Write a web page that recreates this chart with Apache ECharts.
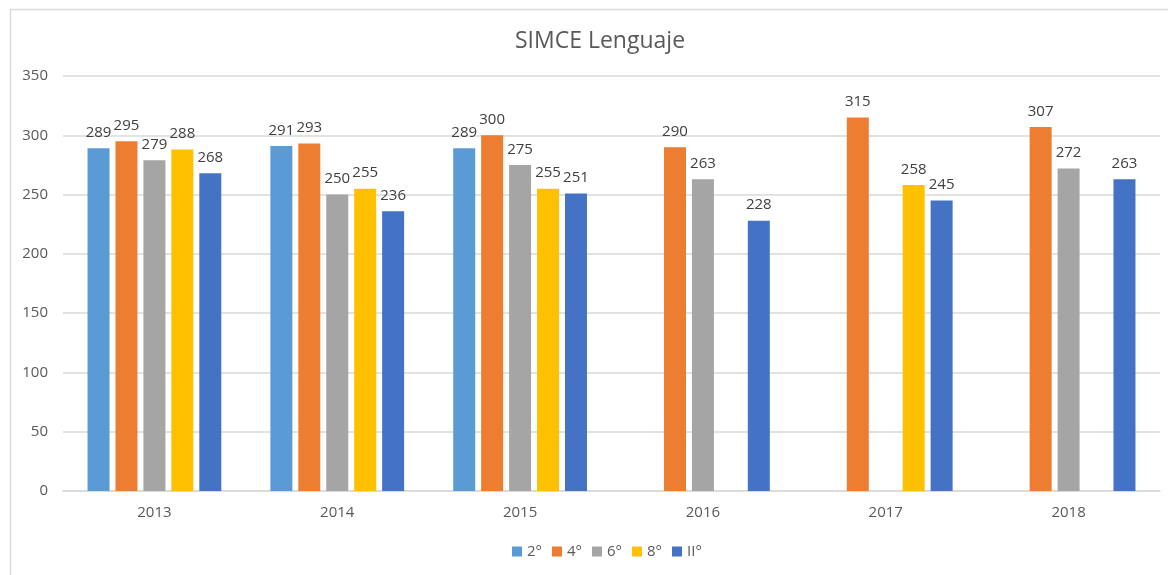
<!DOCTYPE html>
<html>
<head>
<meta charset="utf-8">
<title>SIMCE Lenguaje</title>
<script src="https://cdn.jsdelivr.net/npm/echarts@6/dist/echarts.min.js"></script>
<style>
  html, body { margin: 0; padding: 0; background: #fff; }
  #chart { width: 1168px; height: 575px; }
</style>
</head>
<body>
<div id="chart"></div>
<script>
// años (categorías)
const years = ["2013", "2014", "2015", "2016", "2017", "2018"];
// puntajes por nivel, null = sin dato
const s2 = [289, 291, 289, null, null, null];
const s4 = [295, 293, 300, 290, 315, 307];
const s6 = [279, 250, 275, 263, null, 272];
const s8 = [288, 255, 255, null, 258, null];
const sII = [268, 236, 251, 228, 245, 263];
const yTicks = [0, 50, 100, 150, 200, 250, 300, 350];

const font = "'Open Sans', sans-serif";
const grey = "#595959";

const series = [
  { name: "2°", data: s2, color: "#5B9BD5" },
  { name: "4°", data: s4, color: "#ED7D31" },
  { name: "6°", data: s6, color: "#A5A5A5" },
  { name: "8°", data: s8, color: "#FFC000" },
  { name: "II°", data: sII, color: "#4472C4" },
].map((s) => ({
  name: s.name,
  type: "bar",
  data: s.data,
  barWidth: 22,
  barGap: "27%",
  itemStyle: { color: s.color },
  label: {
    show: true,
    position: "top",
    distance: 8,
    color: "#404040",
    fontSize: 15,
    fontFamily: font,
  },
}));

const chart = echarts.init(document.getElementById("chart"));
chart.setOption({
  animation: false,
  title: {
    text: "SIMCE Lenguaje",
    left: 595,
    top: 25,
    textAlign: "center",
    textStyle: { color: grey, fontSize: 23, fontWeight: "normal", fontFamily: font },
  },
  // marco del gráfico
  graphic: [
    {
      type: "rect",
      shape: { x: 10.5, y: 9.5, width: 1200, height: 600 },
      style: { fill: "none", stroke: "#D9D9D9", lineWidth: 1.5 },
      silent: true,
    },
  ],
  legend: {
    top: 539,
    left: 507,
    itemWidth: 10,
    itemHeight: 10,
    itemGap: 10,
    icon: "rect",
    textStyle: { color: grey, fontSize: 15, fontFamily: font },
  },
  grid: { left: 63, right: 8, top: 76, bottom: 84 },
  xAxis: {
    type: "category",
    data: years,
    axisTick: { show: false },
    axisLine: { lineStyle: { color: "#D9D9D9", width: 1.5 } },
    axisLabel: { color: grey, fontSize: 15, fontFamily: font, margin: 14 },
  },
  yAxis: {
    type: "value",
    min: yTicks[0],
    max: yTicks[yTicks.length - 1],
    interval: 50,
    axisLine: { show: false },
    axisTick: { show: false },
    splitLine: { lineStyle: { color: "#D9D9D9", width: 1.5 } },
    axisLabel: { color: grey, fontSize: 15, fontFamily: font, margin: 15 },
  },
  series: series,
});
</script>
</body>
</html>
